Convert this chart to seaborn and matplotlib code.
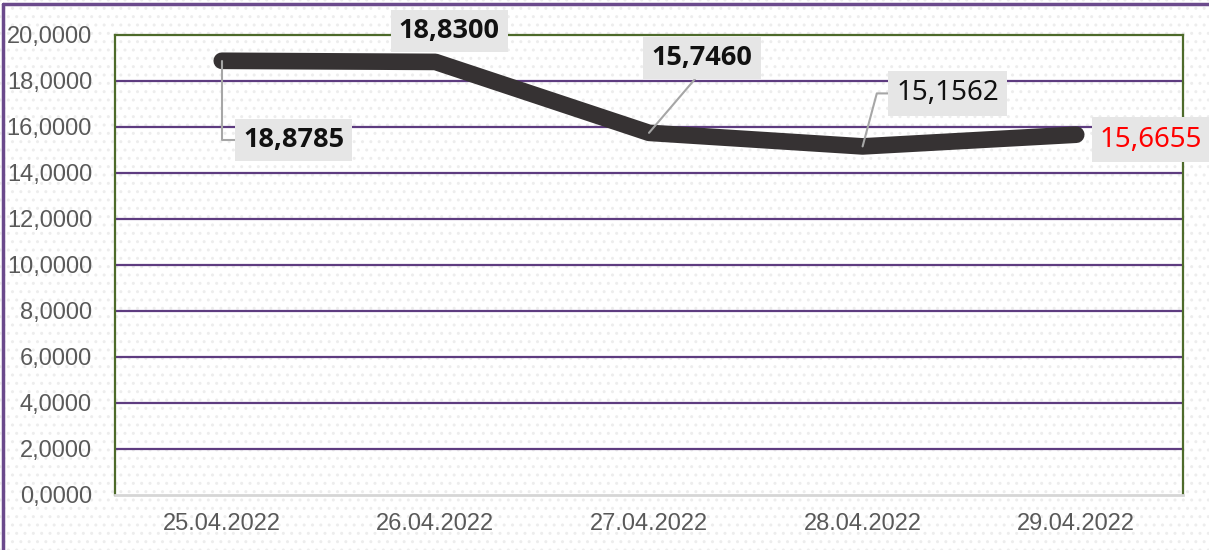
import seaborn as sns
import matplotlib.pyplot as plt
import pandas as pd
from matplotlib.patches import Rectangle
from matplotlib.lines import Line2D
from matplotlib.ticker import FuncFormatter, FixedLocator

# data
dates = ["25.04.2022", "26.04.2022", "27.04.2022", "28.04.2022", "29.04.2022"]
rates = [18.8785, 18.8300, 15.7460, 15.1562, 15.6655]
labels = ["18,8785", "18,8300", "15,7460", "15,1562", "15,6655"]

df = pd.DataFrame({"date": dates, "rate": rates})

sns.set_style("white")
plt.rcParams["font.family"] = ["Liberation Sans", "DejaVu Sans"]

fig = plt.figure(figsize=(12.09, 5.5), dpi=100)
ax = fig.add_axes([115 / 1209, 55 / 550, 1068 / 1209, 460 / 550])
ax.set_facecolor("none")

# dotted background + purple frame of the chart
fig.patches.append(Rectangle((0, 0), 1, 1, transform=fig.transFigure, facecolor="white",
                             edgecolor="#ededed", hatch="..", lw=0, zorder=-5))
fig.lines.append(Line2D([3 / 1209, 3 / 1209], [0, 1 - 4 / 550], transform=fig.transFigure,
                        color="#6b4a8c", lw=2.5))
fig.lines.append(Line2D([3 / 1209, 1], [1 - 4 / 550, 1 - 4 / 550], transform=fig.transFigure,
                        color="#6b4a8c", lw=2.5))

sns.lineplot(data=df, x="date", y="rate", sort=False, color="#363233", linewidth=12,
             solid_capstyle="round", solid_joinstyle="round", ax=ax, zorder=3)

ax.set_xlim(-0.5, 4.5)
ax.set_ylim(0, 20)
ax.set_yticks(range(0, 21, 2))
ax.yaxis.set_major_formatter(FuncFormatter(lambda v, p: f"{v:.4f}".replace(".", ",")))
ax.set_xlabel("")
ax.set_ylabel("")

# horizontal purple grid
for y in range(2, 20, 2):
    ax.axhline(y, color="#5e3c80", lw=1.6, zorder=1)

for side in ["left", "top", "right"]:
    ax.spines[side].set_color("#4e6b2b")
    ax.spines[side].set_linewidth(1.6)
ax.spines["bottom"].set_color("#d6d6d6")
ax.spines["bottom"].set_linewidth(2)

ax.tick_params(axis="y", length=0, pad=16.5, labelsize=17, labelcolor="#595959")
ax.tick_params(axis="x", which="major", length=0, pad=13, labelsize=17, labelcolor="#595959")
ax.xaxis.set_minor_locator(FixedLocator([-0.5, 0.5, 1.5, 2.5, 3.5, 4.5]))
ax.tick_params(axis="x", which="minor", length=7, width=2, color="#d6d6d6", direction="out")

# data labels with leader lines
box = dict(boxstyle="square,pad=0.3", facecolor="#e6e6e6", edgecolor="none")
gray = "#a6a6a6"
bold_font = dict(fontsize=19.5, family=["Open Sans", "DejaVu Sans"], fontweight="bold",
                 color="#111111")
reg_font = dict(fontsize=20, family=["Noto Sans", "DejaVu Sans"])

ax.annotate(labels[0], xy=(0, rates[0]), xytext=(72, -79), textcoords="offset pixels",
            ha="center", va="center", bbox=box, zorder=5,
            arrowprops=dict(arrowstyle="-", color=gray, lw=1.5, relpos=(0, 0.5),
                            shrinkA=0, shrinkB=0,
                            connectionstyle="angle,angleA=0,angleB=90,rad=0"), **bold_font)
ax.annotate(labels[1], xy=(1, rates[1]), xytext=(14, 31), textcoords="offset pixels",
            ha="center", va="center", bbox=box, zorder=5, **bold_font)
ax.annotate(labels[2], xy=(2, rates[2]), xytext=(53, 75), textcoords="offset pixels",
            ha="center", va="center", bbox=box, zorder=5,
            arrowprops=dict(arrowstyle="-", color=gray, lw=1.5, relpos=(0.5, 0),
                            shrinkA=0, shrinkB=0), **bold_font)
ax.annotate(labels[3], xy=(3, rates[3]), xytext=(85, 53), textcoords="offset pixels",
            ha="center", va="center", bbox=box, zorder=5, color="#111111",
            arrowprops=dict(arrowstyle="-", color=gray, lw=1.5, relpos=(0, 0.5),
                            shrinkA=0, shrinkB=0,
                            connectionstyle="angle,angleA=0,angleB=75,rad=0"), **reg_font)
ax.annotate(labels[4], xy=(4, rates[4]), xytext=(75, -5), textcoords="offset pixels",
            ha="center", va="center", color="#ff0000", bbox=box,
            zorder=5, annotation_clip=False, **reg_font)

fig.savefig("out.png", dpi=100)
